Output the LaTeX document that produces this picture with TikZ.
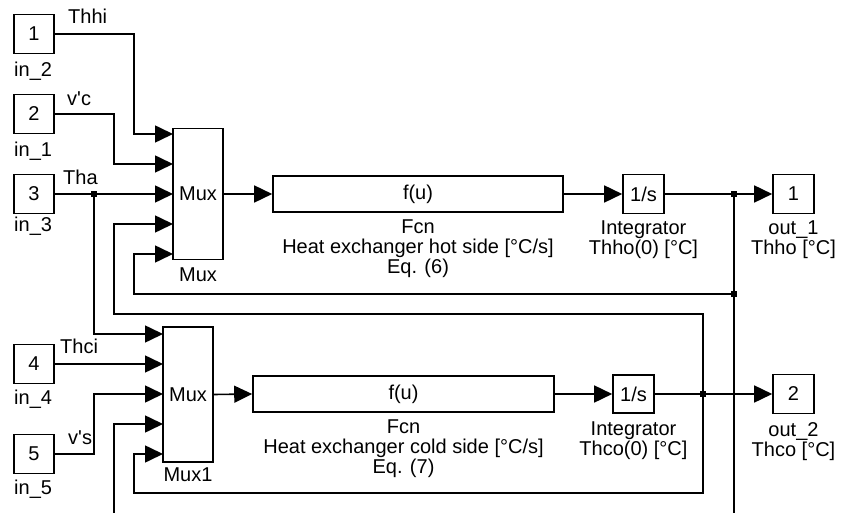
\documentclass[tikz,border=0pt]{standalone}
\usepackage{fontspec}
\setmainfont{Liberation Sans}[Ligatures=TeXOff]
\usetikzlibrary{arrows.meta}
\begin{document}
\begin{tikzpicture}[x=1pt,y=-1pt,
  blk/.style={draw,line width=1.6pt,inner sep=0pt,font=\fontsize{20}{20}\selectfont},
  port/.style={blk,minimum width=40pt,minimum height=39pt},
  lbl/.style={inner sep=0pt,font=\fontsize{20}{20}\selectfont,align=center},
  wire/.style={line width=1.6pt},
  sig/.style={wire,-{Triangle[length=18pt,width=17pt]}},
  jdot/.style={fill,minimum size=6pt,inner sep=0pt}
]
\useasboundingbox (0,0) rectangle (841,513);

% input ports
\node[port] (in2) at (34,34) {1};
\node[port] (in1) at (34,114) {2};
\node[port] (in3) at (34,194) {3};
\node[port] (in4) at (34,364) {4};
\node[port] (in5) at (34,454) {5};
\node[lbl,anchor=north west] (l2) at (14,62) {in\_2};
\node[lbl,anchor=north west] (l1) at (14,142) {in\_1};
\node[lbl,anchor=north west] (l3) at (14,217) {in\_3};
\node[lbl,anchor=north west] (l4) at (14,390) {in\_4};
\node[lbl,anchor=north west] (l5) at (14,480) {in\_5};

% signal names
\node[lbl,anchor=base west] (sThhi) at (68,24) {Thhi};
\node[lbl,anchor=base west] (svc) at (67,106) {v'c};
\node[lbl,anchor=base west] (sTha) at (63,185) {Tha};
\node[lbl,anchor=base west] (sThci) at (60,353) {Thci};
\node[lbl,anchor=base west] (svs) at (68,444) {v's};

% mux blocks
\node[blk,minimum width=50pt,minimum height=131pt] (mux) at (198,194) {Mux};
\node[lbl,anchor=north] (muxl) at (198,268) {Mux};
\node[blk,minimum width=50pt,minimum height=135pt] (mux1) at (188,394.5) {Mux};
\node[lbl,anchor=north] (mux1l) at (188,468) {Mux1};

% mux input points
\coordinate (ma1) at (173,134);
\coordinate (ma2) at (173,164);
\coordinate (ma3) at (173,194);
\coordinate (ma4) at (173,224);
\coordinate (ma5) at (173,254);
\coordinate (mb1) at (163,334);
\coordinate (mb2) at (163,364);
\coordinate (mb3) at (163,394);
\coordinate (mb4) at (163,424);
\coordinate (mb5) at (163,454);

% function blocks
\node[blk,minimum width=290pt,minimum height=36pt] (fcn) at (418,194) {f(u)};
\node[lbl,anchor=north] (fcnl) at (418,220) {Fcn\\Heat exchanger hot side [°C/s]\\Eq. (6)};
\node[blk,minimum width=301pt,minimum height=36pt] (fcn2) at (403.5,394) {f(u)};
\node[lbl,anchor=north] (fcn2l) at (403.5,420) {Fcn\\Heat exchanger cold side [°C/s]\\Eq. (7)};

% integrators
\node[blk,minimum width=41pt,minimum height=39pt] (int1) at (643.5,194) {1/s};
\node[lbl,anchor=north] (int1l) at (643.5,221) {Integrator\\Thho(0) [°C]};
\node[blk,minimum width=41pt,minimum height=38pt] (int2) at (633.5,394) {1/s};
\node[lbl,anchor=north] (int2l) at (633.5,422) {Integrator\\Thco(0) [°C]};

% outputs
\node[port,minimum width=41pt] (out1) at (793.5,194) {1};
\node[lbl,anchor=north] (out1l) at (793.5,221) {out\_1\\Thho [°C]};
\node[port,minimum width=41pt] (out2) at (793.5,394) {2};
\node[lbl,anchor=north] (out2l) at (793.5,422) {out\_2\\Thco [°C]};

% junctions
\node[jdot] (j0) at (94,194) {};
\node[jdot] (j1) at (734,194) {};
\node[jdot] (j3) at (734,294) {};
\node[jdot] (j2) at (703,394) {};
\coordinate (bot1) at (734,513);
\coordinate (bot2) at (114,513);

% wires top
\draw[sig] (in2.east) -- (134,34) |- (ma1);
\draw[sig] (in1.east) -- (114,114) |- (ma2);
\draw[sig] (in3.east) -- (ma3);
\draw[sig] (j0.center) |- (mb1);
\draw[sig] (mux.east) -- (fcn.west);
\draw[sig] (fcn.east) -- (int1.west);
\draw[sig] (int1.east) -- (out1.west);
\draw[wire] (j1.center) -- (bot1);
\draw[sig] (j3.center) -- (134,294) |- (ma5);
\draw[sig] (j2.center) -- (703,314) -- (114,314) |- (ma4);

% wires bottom
\draw[sig] (in4.east) -- (mb2);
\draw[sig] (in5.east) -- (94,454) |- (mb3);
\draw[sig] (bot2) |- (mb4);
\draw[sig] (j2.center) -- (703,493) -- (134,493) |- (mb5);
\draw[sig] (mux1.east) -- (fcn2.west);
\draw[sig] (fcn2.east) -- (int2.west);
\draw[sig] (int2.east) -- (out2.west);
\end{tikzpicture}
\end{document}
